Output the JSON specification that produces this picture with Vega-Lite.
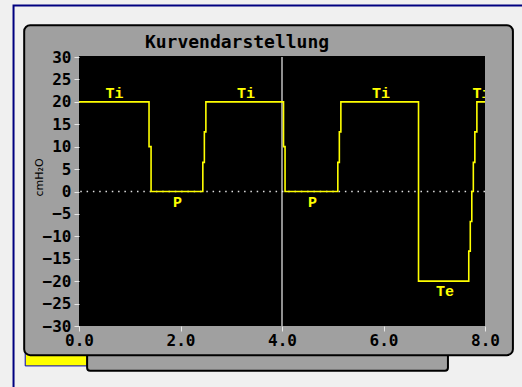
{
  "$schema": "https://vega.github.io/schema/vega-lite/v6.json",
  "width": 406,
  "height": 269,
  "autosize": "none",
  "padding": {"left": 79, "top": 57, "right": 37, "bottom": 61},
  "background": "#f0f0f0",
  "config": {
    "view": {"stroke": null, "fill": "black"},
    "axisX": {
      "domain": false, "grid": false,
      "tickColor": "#e8e8e8", "tickSize": 5, "tickWidth": 1,
      "labelFont": "DejaVu Sans Mono", "labelFontSize": 16, "labelFontWeight": "bold",
      "labelColor": "black", "labelPadding": 1, "labelFlush": false, "labelOverlap": false
    },
    "axisY": {
      "domain": false, "grid": false,
      "tickColor": "#e8e8e8", "tickSize": 5, "tickWidth": 1,
      "labelFont": "DejaVu Sans Mono", "labelFontSize": 16, "labelFontWeight": "bold",
      "labelColor": "black", "labelPadding": 3, "labelOverlap": false,
      "titleFont": "DejaVu Sans", "titleFontSize": 11, "titleFontWeight": "normal",
      "titleColor": "black", "titleX": -40, "titleY": 120, "titleAngle": -90,
      "titleAlign": "center", "titleBaseline": "middle"
    }
  },
  "title": {
    "text": "Kurvendarstellung",
    "font": "DejaVu Sans Mono",
    "fontSize": 18,
    "fontWeight": "bold",
    "color": "black",
    "anchor": "middle",
    "frame": "group",
    "dx": -45,
    "offset": -48,
    "zindex": 2
  },
  "datasets": {
    "curve": [
      {"i": 1, "t": 0.0, "p": 20},
      {"i": 2, "t": 1.38, "p": 20},
      {"i": 3, "t": 1.38, "p": 10},
      {"i": 4, "t": 1.42, "p": 10},
      {"i": 5, "t": 1.42, "p": 0},
      {"i": 6, "t": 2.44, "p": 0},
      {"i": 7, "t": 2.44, "p": 6.5},
      {"i": 8, "t": 2.47, "p": 6.5},
      {"i": 9, "t": 2.47, "p": 13.3},
      {"i": 10, "t": 2.5, "p": 13.3},
      {"i": 11, "t": 2.5, "p": 20},
      {"i": 12, "t": 4.03, "p": 20},
      {"i": 13, "t": 4.03, "p": 10},
      {"i": 14, "t": 4.06, "p": 10},
      {"i": 15, "t": 4.06, "p": 0},
      {"i": 16, "t": 5.1, "p": 0},
      {"i": 17, "t": 5.1, "p": 6.5},
      {"i": 18, "t": 5.13, "p": 6.5},
      {"i": 19, "t": 5.13, "p": 13.3},
      {"i": 20, "t": 5.16, "p": 13.3},
      {"i": 21, "t": 5.16, "p": 20},
      {"i": 22, "t": 6.69, "p": 20},
      {"i": 23, "t": 6.69, "p": -20},
      {"i": 24, "t": 7.68, "p": -20},
      {"i": 25, "t": 7.68, "p": -13.3},
      {"i": 26, "t": 7.71, "p": -13.3},
      {"i": 27, "t": 7.71, "p": -6.7},
      {"i": 28, "t": 7.74, "p": -6.7},
      {"i": 29, "t": 7.74, "p": 0},
      {"i": 30, "t": 7.77, "p": 0},
      {"i": 31, "t": 7.77, "p": 6.5},
      {"i": 32, "t": 7.8, "p": 6.5},
      {"i": 33, "t": 7.8, "p": 13.3},
      {"i": 34, "t": 7.84, "p": 13.3},
      {"i": 35, "t": 7.84, "p": 20},
      {"i": 36, "t": 8.0, "p": 20}
    ],
    "phases": [
      {"t": 0.7, "p": 20, "label": "Ti", "pos": "above"},
      {"t": 3.29, "p": 20, "label": "Ti", "pos": "above"},
      {"t": 5.95, "p": 20, "label": "Ti", "pos": "above"},
      {"t": 7.93, "p": 20, "label": "Ti", "pos": "above"},
      {"t": 1.94, "p": 0, "label": "P", "pos": "below"},
      {"t": 4.6, "p": 0, "label": "P", "pos": "below"},
      {"t": 7.21, "p": -20, "label": "Te", "pos": "below"}
    ],
    "cursor": [{"t": 4.0}],
    "baseline": [{"p": 0}],
    "frame": [{}]
  },
  "layer": [
    {
      "data": {"name": "frame"},
      "mark": {"type": "rect", "fill": "#f0f0f0", "stroke": "#000080", "strokeWidth": 2, "clip": false},
      "encoding": {
        "x": {"datum": -1.29, "type": "quantitative", "scale": {"domain": [0, 8], "nice": false, "zero": false}, "axis": {"title": null, "values": [0, 2, 4, 6, 8], "format": ".1f", "zindex": 1}},
        "x2": {"datum": 9.2},
        "y": {"datum": 41.5, "type": "quantitative", "scale": {"domain": [-30, 30], "nice": false, "zero": false}, "axis": {"title": "cmH₂O", "values": [-30, -25, -20, -15, -10, -5, 0, 5, 10, 15, 20, 25, 30], "zindex": 1}},
        "y2": {"datum": -50}
      }
    },
    {
      "data": {"name": "frame"},
      "mark": {"type": "rect", "fill": "#ffff00", "stroke": "#0000c0", "strokeWidth": 1, "clip": false},
      "encoding": {
        "x": {"datum": -1.06, "type": "quantitative", "scale": {"domain": [0, 8], "nice": false, "zero": false}, "axis": {"title": null, "values": [0, 2, 4, 6, 8], "format": ".1f", "zindex": 1}},
        "x2": {"datum": 0.16},
        "y": {"datum": -35.3, "type": "quantitative", "scale": {"domain": [-30, 30], "nice": false, "zero": false}, "axis": {"title": "cmH₂O", "values": [-30, -25, -20, -15, -10, -5, 0, 5, 10, 15, 20, 25, 30], "zindex": 1}},
        "y2": {"datum": -38.9}
      }
    },
    {
      "data": {"name": "frame"},
      "mark": {"type": "rect", "fill": "#a0a0a0", "stroke": "black", "strokeWidth": 2, "cornerRadius": 3, "clip": false},
      "encoding": {
        "x": {"datum": 0.16, "type": "quantitative", "scale": {"domain": [0, 8], "nice": false, "zero": false}, "axis": {"title": null, "values": [0, 2, 4, 6, 8], "format": ".1f", "zindex": 1}},
        "x2": {"datum": 7.27},
        "y": {"datum": -35.3, "type": "quantitative", "scale": {"domain": [-30, 30], "nice": false, "zero": false}, "axis": {"title": "cmH₂O", "values": [-30, -25, -20, -15, -10, -5, 0, 5, 10, 15, 20, 25, 30], "zindex": 1}},
        "y2": {"datum": -40.0}
      }
    },
    {
      "data": {"name": "frame"},
      "mark": {"type": "rect", "fill": "#a0a0a0", "stroke": "black", "strokeWidth": 2, "cornerRadius": 6, "clip": false},
      "encoding": {
        "x": {"datum": -1.08, "type": "quantitative", "scale": {"domain": [0, 8], "nice": false, "zero": false}, "axis": {"title": null, "values": [0, 2, 4, 6, 8], "format": ".1f", "zindex": 1}},
        "x2": {"datum": 8.55},
        "y": {"datum": 37.1, "type": "quantitative", "scale": {"domain": [-30, 30], "nice": false, "zero": false}, "axis": {"title": "cmH₂O", "values": [-30, -25, -20, -15, -10, -5, 0, 5, 10, 15, 20, 25, 30], "zindex": 1}},
        "y2": {"datum": -36.5}
      }
    },
    {
      "data": {"name": "frame"},
      "mark": {"type": "rect", "fill": "black", "clip": false},
      "encoding": {
        "x": {"datum": 0, "type": "quantitative", "scale": {"domain": [0, 8], "nice": false, "zero": false}, "axis": {"title": null, "values": [0, 2, 4, 6, 8], "format": ".1f", "zindex": 1}},
        "x2": {"datum": 8},
        "y": {"datum": 30.2, "type": "quantitative", "scale": {"domain": [-30, 30], "nice": false, "zero": false}, "axis": {"title": "cmH₂O", "values": [-30, -25, -20, -15, -10, -5, 0, 5, 10, 15, 20, 25, 30], "zindex": 1}},
        "y2": {"datum": -30}
      }
    },
    {
      "data": {"name": "baseline"},
      "mark": {"type": "rule", "color": "#e0e0e0", "strokeWidth": 1.5, "strokeDash": [1.5, 4.8]},
      "encoding": {
        "y": {"field": "p", "type": "quantitative", "scale": {"domain": [-30, 30], "nice": false, "zero": false}, "axis": {"title": "cmH₂O", "values": [-30, -25, -20, -15, -10, -5, 0, 5, 10, 15, 20, 25, 30], "zindex": 1}}
      }
    },
    {
      "data": {"name": "cursor"},
      "mark": {"type": "rule", "color": "#f0f0f0", "strokeWidth": 1.2},
      "encoding": {
        "x": {"field": "t", "type": "quantitative", "scale": {"domain": [0, 8], "nice": false, "zero": false}, "axis": {"title": null, "values": [0, 2, 4, 6, 8], "format": ".1f", "zindex": 1}}
      }
    },
    {
      "data": {"name": "curve"},
      "mark": {"type": "line", "color": "#ffff00", "strokeWidth": 1.6, "clip": true},
      "encoding": {
        "x": {"field": "t", "type": "quantitative", "scale": {"domain": [0, 8], "nice": false, "zero": false}, "axis": {"title": null, "values": [0, 2, 4, 6, 8], "format": ".1f", "zindex": 1}},
        "y": {"field": "p", "type": "quantitative", "scale": {"domain": [-30, 30], "nice": false, "zero": false}, "axis": {"title": "cmH₂O", "values": [-30, -25, -20, -15, -10, -5, 0, 5, 10, 15, 20, 25, 30], "zindex": 1}},
        "order": {"field": "i", "type": "quantitative"}
      }
    },
    {
      "data": {"name": "phases"},
      "transform": [{"filter": "datum.pos === 'above'"}],
      "mark": {"type": "text", "color": "#ffff00", "font": "Liberation Mono", "fontSize": 15, "fontWeight": "bold", "baseline": "middle", "dy": -9, "clip": true},
      "encoding": {
        "x": {"field": "t", "type": "quantitative", "scale": {"domain": [0, 8], "nice": false, "zero": false}, "axis": {"title": null, "values": [0, 2, 4, 6, 8], "format": ".1f", "zindex": 1}},
        "y": {"field": "p", "type": "quantitative", "scale": {"domain": [-30, 30], "nice": false, "zero": false}, "axis": {"title": "cmH₂O", "values": [-30, -25, -20, -15, -10, -5, 0, 5, 10, 15, 20, 25, 30], "zindex": 1}},
        "text": {"field": "label"}
      }
    },
    {
      "data": {"name": "phases"},
      "transform": [{"filter": "datum.pos === 'below'"}],
      "mark": {"type": "text", "color": "#ffff00", "font": "Liberation Mono", "fontSize": 15, "fontWeight": "bold", "baseline": "middle", "dy": 10, "clip": true},
      "encoding": {
        "x": {"field": "t", "type": "quantitative", "scale": {"domain": [0, 8], "nice": false, "zero": false}, "axis": {"title": null, "values": [0, 2, 4, 6, 8], "format": ".1f", "zindex": 1}},
        "y": {"field": "p", "type": "quantitative", "scale": {"domain": [-30, 30], "nice": false, "zero": false}, "axis": {"title": "cmH₂O", "values": [-30, -25, -20, -15, -10, -5, 0, 5, 10, 15, 20, 25, 30], "zindex": 1}},
        "text": {"field": "label"}
      }
    }
  ]
}
